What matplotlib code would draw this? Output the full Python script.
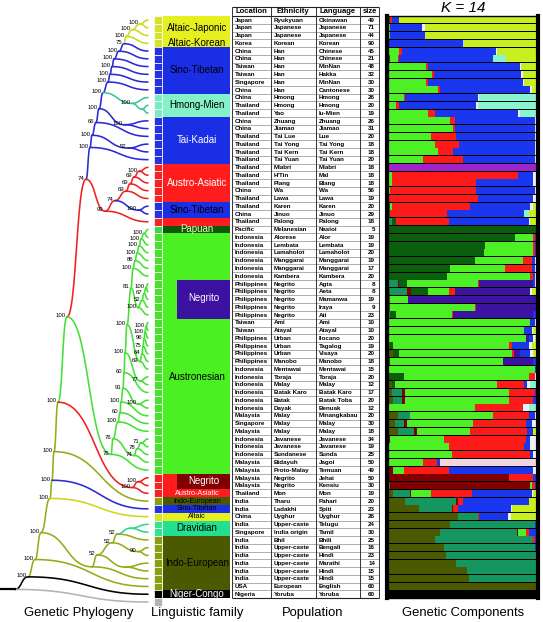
import matplotlib
matplotlib.use('Agg')
import matplotlib.pyplot as plt
import numpy as np

plt.rcParams['font.family'] = ['Liberation Sans', 'DejaVu Sans']

# ---------------- populations (table rows, top to bottom) ----------------
location = ['Japan', 'Japan', 'Japan', 'Korea', 'China', 'China', 'Taiwan', 'Taiwan', 'Singapore', 'China',
            'China', 'Thailand', 'Thailand', 'China', 'China', 'Thailand', 'Thailand', 'Thailand', 'Thailand', 'Thailand',
            'Thailand', 'Thailand', 'China', 'Thailand', 'Thailand', 'China', 'Thailand', 'Pacific', 'Indonesia', 'Indonesia',
            'Indonesia', 'Indonesia', 'Indonesia', 'Indonesia', 'Philippines', 'Philippines', 'Philippines', 'Philippines', 'Philippines', 'Taiwan',
            'Taiwan', 'Philippines', 'Philippines', 'Philippines', 'Philippines', 'Indonesia', 'Indonesia', 'Indonesia', 'Indonesia', 'Indonesia',
            'Indonesia', 'Malaysia', 'Singapore', 'Malaysia', 'Indonesia', 'Indonesia', 'Indonesia', 'Malaysia', 'Malaysia', 'Malaysia',
            'Malaysia', 'Thailand', 'India', 'India', 'China', 'India', 'Singapore', 'India', 'India', 'India',
            'India', 'India', 'India', 'USA', 'Nigeria']
ethnicity = ['Ryukyuan', 'Japanese', 'Japanese', 'Korean', 'Han', 'Han', 'Han', 'Han', 'Han', 'Han',
             'Hmong', 'Hmong', 'Yao', 'Zhuang', 'Jiamao', 'Tai Lue', 'Tai Yong', 'Tai Kern', 'Tai Yuan', 'Mlabri',
             "H'Tin", 'Plang', 'Wa', 'Lawa', 'Karen', 'Jinuo', 'Palong', 'Melanesian', 'Alorese', 'Lembata',
             'Lamaholot', 'Manggarai', 'Manggarai', 'Kambera', 'Negrito', 'Negrito', 'Negrito', 'Negrito', 'Negrito', 'Ami',
             'Atayal', 'Urban', 'Urban', 'Urban', 'Manobo', 'Mentawai', 'Toraja', 'Malay', 'Batak Karo', 'Batak',
             'Dayak', 'Malay', 'Malay', 'Malay', 'Javanese', 'Javanese', 'Sundanese', 'Bidayuh', 'Proto-Malay', 'Negrito',
             'Negrito', 'Mon', 'Tharu', 'Ladakhi', 'Uyghur', 'Upper-caste', 'India origin', 'Bhil', 'Upper-caste', 'Upper-caste',
             'Upper-caste', 'Upper-caste', 'Upper-caste', 'European', 'Yoruba']
language = ['Okinawan', 'Japanese', 'Japanese', 'Korean', 'Chinese', 'Chinese', 'MinNan', 'Hakka', 'MinNan', 'Cantonese',
            'Hmong', 'Hmong', 'Iu-Mien', 'Zhuang', 'Jiamao', 'Lue', 'Tai Yong', 'Tai Kern', 'Tai Yuan', 'Mlabri',
            'Mal', 'Blang', 'Wa', 'Lawa', 'Karen', 'Jinuo', 'Palong', 'Nasioi', 'Alor', 'Lembata',
            'Lamaholot', 'Manggarai', 'Manggarai', 'Kambera', 'Agta', 'Aeta', 'Mamanwa', 'Iraya', 'Ati', 'Ami',
            'Atayal', 'Ilocano', 'Tagalog', 'Visaya', 'Manobo', 'Mentawai', 'Toraja', 'Malay', 'Batak Karo', 'Batak Toba',
            'Benuak', 'Minangkabau', 'Malay', 'Malay', 'Javanese', 'Javanese', 'Sunda', 'Jagoi', 'Temuan', 'Jehai',
            'Kensiu', 'Mon', 'Pahari', 'Spiti', 'Uyghur', 'Telugu', 'Tamil', 'Bhili', 'Bengali', 'Hindi',
            'Marathi', 'Hindi', 'Hindi', 'English', 'Yoruba']
size = [49, 71, 44, 90, 45, 21, 48, 32, 30, 30,
        26, 20, 19, 26, 31, 20, 18, 18, 20, 18,
        18, 18, 56, 19, 20, 29, 18, 5, 19, 19,
        20, 19, 17, 20, 8, 8, 19, 9, 23, 10,
        10, 20, 19, 20, 18, 15, 20, 12, 17, 20,
        12, 20, 30, 18, 34, 19, 25, 50, 49, 50,
        30, 19, 20, 23, 26, 24, 30, 25, 16, 23,
        14, 15, 15, 60, 60]

# linguistic family of each row (+ outgroup leaf 76)
fam = (['ALT'] * 4 + ['ST'] * 6 + ['HM'] * 3 + ['TK'] * 6 + ['AA'] * 5 + ['ST'] * 2 + ['AA'] + ['PAP']
       + ['AN'] * 31 + ['AA'] * 3 + ['IE', 'ST', 'ALT'] + ['DR'] * 2 + ['IE'] * 7 + ['NC', 'OUT'])

# (first row, last row, label, text colour, optional label row)
fam_blocks = [(1, 3, 'Altaic-Japonic', 'black'), (4, 4, 'Altaic-Korean', 'black'),
              (5, 10, 'Sino-Tibetan', 'black'), (11, 13, 'Hmong-Mien', 'black'),
              (14, 19, 'Tai-Kadai', 'white'), (20, 24, 'Austro-Asiatic', 'white'),
              (25, 26, 'Sino-Tibetan', 'black'), (27, 27, '', 'white'),
              (28, 28, 'Papuan', '#f4f4c0'), (29, 59, 'Austronesian', 'black', 47),
              (60, 62, 'Austro-Asiatic', 'white', 62), (63, 63, 'Indo-European', 'black'),
              (64, 64, 'Sino-Tibetan', 'black'), (65, 65, 'Altaic', 'black'),
              (66, 67, 'Dravidian', 'black'), (68, 74, 'Indo-European', 'black'),
              (75, 75, 'Niger-Congo', 'white')]
negrito_boxes = [(35, 39, '#3c10a0'), (60, 61, '#800000')]
tight_rows = [62, 63, 64, 65]   # one-row labels packed together

# ---------------- genetic components, K = 14 (percent per row) ----------------
olive = [0] * 30 + [0, 0, 0, 0, 0, 2, 2, 0, 0, 0,
                    0, 0, 2, 4, 0, 0, 0, 3, 3, 4,
                    0, 7, 5, 7, 0, 0, 0, 0, 1, 0,
                    0, 4, 12, 21, 47, 42, 35, 32, 38, 39,
                    46, 53, 54, 99, 0]
teal = [0] * 20 + [0, 0, 0, 0, 0, 0, 3, 0, 0, 0,
                   0, 0, 0, 0, 7, 11, 0, 0, 2, 0,
                   0, 0, 0, 0, 0, 0, 0, 0, 7, 6,
                   0, 8, 6, 11, 0, 0, 0, 0, 0, 0,
                   2, 11, 34, 22, 13, 56, 51, 65, 60, 60,
                   53, 46, 45, 1, 0]
dkred = [0] * 30 + [1, 1, 0, 0, 1, 3, 0, 0, 0, 0,
                    0, 1, 0, 0, 0, 1, 0, 0, 2, 2,
                    1, 0, 2, 2, 2, 1, 1, 0, 3, 81,
                    93, 1, 1, 1, 0, 0, 1, 0, 0, 0,
                    0, 0, 0, 0, 0]
dkgreen = [2, 0, 0, 0, 1, 2, 0, 0, 0, 0,
           0, 0, 1, 0, 0, 0, 0, 0, 1, 0,
           0, 0, 0, 1, 2, 2, 3, 99, 85, 65,
           63, 57, 42, 40, 5, 11, 0, 2, 4, 0,
           0, 0, 2, 4, 2, 0, 11, 2, 0, 0] + [0] * 25
green = [0, 2, 2, 1, 7, 5, 26, 30, 26, 34,
         11, 6, 26, 42, 44, 29, 32, 33, 23, 0,
         3, 3, 2, 0, 1, 0, 0, 0, 12, 32,
         33, 32, 36, 55, 47, 14, 12, 56, 37, 95,
         91, 91, 77, 75, 75, 97, 83, 68, 69, 69,
         57, 55, 44, 35, 36, 40, 42, 24, 7, 0,
         1, 13, 0, 0, 0, 0, 5, 0, 0, 0,
         0, 0, 0, 0, 0]
red = [1, 0, 0, 0, 2, 1, 1, 1, 1, 1,
       1, 2, 5, 3, 1, 17, 16, 10, 26, 0,
       84, 56, 57, 59, 52, 38, 35, 0, 1, 1,
       1, 6, 18, 2, 1, 4, 0, 1, 1, 0,
       0, 0, 2, 1, 0, 0, 4, 18, 17, 16,
       32, 24, 35, 38, 54, 50, 52, 9, 30, 16,
       2, 27, 3, 3, 1, 0, 2, 1, 0, 0,
       0, 0, 0, 0, 0]
indigo = [0] * 30 + [0, 0, 0, 0, 36, 50, 85, 40, 53, 0,
                     0, 2, 0, 4, 20, 0, 0, 0, 0, 0] + [0] * 25
blue = [5, 21, 23, 49, 62, 62, 61, 58, 63, 60,
        48, 51, 55, 53, 53, 52, 50, 53, 48, 0,
        10, 38, 39, 37, 40, 51, 53, 0, 1, 1,
        1, 2, 2, 1, 1, 0, 0, 0, 2, 3,
        5, 3, 11, 7, 2, 1, 0, 2, 2, 2,
        0, 4, 4, 4, 3, 4, 2, 2, 56, 2,
        2, 40, 44, 35, 19, 1, 5, 1, 1, 0,
        0, 0, 0, 0, 0]
white = [0, 2, 0, 0, 1, 0, 1, 1, 1, 1,
         1, 1, 1, 2, 2, 2, 2, 2, 2, 0,
         2, 2, 2, 2, 2, 0, 1, 1, 1, 1,
         1, 2, 2, 2, 2, 1, 1, 1, 1, 2,
         1, 1, 2, 2, 1, 1, 2, 2, 0, 1,
         4, 2, 4, 0, 4, 4, 3, 0, 3, 1,
         0, 1, 0, 1, 2, 1, 1, 1, 1, 1,
         1, 1, 1, 0, 0]
pink = {58: 64}
aqua = {4: 1, 6: 9, 11: 39, 12: 40, 13: 12, 21: 1, 22: 1, 26: 3, 48: 5, 51: 6, 55: 1, 56: 1, 58: 1}
violet = {20: 100}
ygreen = [92, 75, 75, 49, 27, 21, 11, 10, 9, 4,
          0, 0, 0, 0, 0, 0, 0, 0, 0, 0,
          0, 0, 0, 1, 3, 6, 5, 0, 0, 0,
          0, 0, 0, 0, 0, 4, 0, 0, 0, 0,
          3, 2, 4, 3, 0, 0, 0, 0, 0, 0,
          0, 0, 0, 3, 0, 0, 0, 0, 0, 0,
          0, 3, 6, 17, 18, 0, 0, 0, 0, 0,
          0, 0, 0, 0, 0]
black = {75: 100}

# ---------------- colours ----------------
TREE = {'ALT': '#cdd81c', 'ST': '#2a2ad6', 'HM': '#3cc49c', 'TK': '#2a2ad6', 'AA': '#ee2222',
        'PAP': '#44e034', 'AN': '#44e034', 'IE': '#94ac18', 'DR': '#2ed890', 'NC': '#000000',
        'OUT': '#b0b4b4'}
SQ = {'ALT': '#d4e42a', 'ST': '#2632e0', 'HM': '#78ecc4', 'TK': '#2632e0', 'AA': '#f42222',
      'PAP': '#38d848', 'AN': '#4ae030', 'IE': '#8a9e12', 'DR': '#34e092', 'NC': '#000000',
      'OUT': '#b4b4b4'}
BLK = {'ALT': '#e6f01e', 'ST': '#1a2ee6', 'HM': '#84f2c8', 'TK': '#1a2ee6', 'AA': '#ff1c1c',
       'PAP': '#0b5a0b', 'AN': '#4af022', 'IE': '#4b5a00', 'DR': '#22e090', 'NC': '#000000'}

# ---------------- phylogeny: [node x, bootstrap, colour if mixed, children...] ----------------
altaic = [126, '100', None, [132, '100', None, [140, '100', None, 1, 2], 3], 4]
t = [124, '75', 'ST', altaic, 5]
t = [119, '100', 'ST', t, 6]
t = [114, '100', 'ST', t, 7]
t = [112, '100', 'ST', t, 8]
t = [110, '100', 'ST', t, 9]
t = [108, '100', 'ST', t, 10]
t = [103, '100', 'ST', t, [132, '100', None, 11, [142, '', None, 12, 13]]]
t = [99, '100', 'ST', t, [124, '100', None, 14, 15]]
t = [96, '66', 'ST', t, 16]
t = [92, '100', 'ST', t, [128, '52', None, 17, 18]]
t = [90, '100', 'ST', t, 19]
aac = [126, '69', None, [130, '69', None, [134, '69', None, [139, '100', None, 20, 21], 22], 23], 24]
aa = [105, '93', 'AA', [115, '74', 'AA', aac, [138, '100', None, 25, 26]], 27]
top = [86, '74', 'AA', t, aa]

g = [144, '100', None, 28, 29]
g = [141, '100', None, g, 30]
g = [139, '100', None, g, 31]
g = [137, '100', None, g, 32]
g = [135, '86', None, g, 33]
g = [133, '100', None, g, 34]
neg = [138, '100', None, [142, '52', None, [144, '67', None, [146, '100', None, 35, 36], 37], 38], 39]
g = [131, '81', None, g, neg]
ph = [146, '100', None, 40, 41]
ph = [145, '100', None, ph, 42]
ph = [144, '96', None, ph, 43]
ph = [143, '75', None, ph, 44]
ph = [142, '64', None, ph, 45]
ph = [140, '69', None, ph, 46]
g = [127, '100', None, g, ph]
g = [125, '100', None, g, [140, '77', None, 47, 48]]
g = [124, '60', None, g, 49]
g = [123, '91', None, g, [138, '100', None, 50, 51]]
g = [121, '100', None, g, 52]
g = [120, '60', None, g, 53]
g = [118, '100', None, g, 54]
g = [113, '76', None, g, [134, '74', None, [137, '78', None, [141, '71', None, 55, 56], 57], 58]]
g = [111, '76', None, g, 59]

india = [117, '52', 'IE', [130, '', None, 66, 67], 68]
india = [112, '52', 'IE', india, [138, '90', None, 69, 70]]
india = [97, '52', 'IE', india, [125, '', None, 71, 72]]
india = [92, '', 'IE', india, 73]

s = [67, '100', 'AN', top, g]
s = [58, '100', 'IE', s, [132, '100', None, [138, '100', None, 60, 61], 62]]
s = [54, '100', 'IE', s, 63]
s = [52, '100', 'IE', s, 64]
s = [50, '100', 'IE', s, 65]
s = [41, '100', 'IE', s, india]
s = [35, '100', 'IE', s, 74]
s = [28, '100', 'NC', s, 75]
root = [15, '', 'NC', s, 76]

# ---------------- layout ----------------
W, H = 543, 622
ROW0, RH = 16.1, 7.76
LEAF_X = 148


def row_y(i):
    return ROW0 + (i - 0.5) * RH


fig = plt.figure(figsize=(W / 100, H / 100), dpi=100)
ax = fig.add_axes([0, 0, 1, 1])
ax.set_xlim(0, W)
ax.set_ylim(H, 0)
ax.axis('off')

pos = {}


def layout(n):
    if isinstance(n, int):
        return LEAF_X, row_y(n), TREE[fam[n - 1]]
    kids = [layout(k) for k in n[3:]]
    y = (kids[0][1] + kids[-1][1]) / 2
    cols = {k[2] for k in kids}
    col = cols.pop() if len(cols) == 1 else TREE[n[2]]
    pos[id(n)] = (n[0], y, col)
    return pos[id(n)]


def curve(x0, y0, x1, y1, c):
    t_ = np.linspace(0, 1, 40)[:, None]
    xm = x0 + (x1 - x0) * 0.5
    p = np.array([[x0, y0], [xm, y0], [xm, y1], [x1, y1]])
    b = ((1 - t_) ** 3 * p[0] + 3 * (1 - t_) ** 2 * t_ * p[1]
         + 3 * (1 - t_) * t_ ** 2 * p[2] + t_ ** 3 * p[3])
    ax.plot(b[:, 0], b[:, 1], color=c, lw=1.15, solid_capstyle='round', zorder=2)


def draw(n):
    x, y, _ = pos[id(n)]
    for k in n[3:]:
        cx, cy, cc = layout(k) if isinstance(k, int) else pos[id(k)]
        curve(x, y, cx, cy, cc)
        if not isinstance(k, int):
            draw(k)
    if n[1]:
        ax.text(x - 1.5, y - 1.2, n[1], fontsize=4.3, ha='right', va='center', zorder=3)


layout(root)
draw(root)
rx, ry, _ = pos[id(root)]
ax.plot([0, rx], [ry, ry], color='black', lw=1.6)

# ---------------- linguistic family ----------------
ax.barh([row_y(i) for i in range(1, 77)], 8.2, left=154.2, height=RH,
        color=[SQ[f] for f in fam], edgecolor='white', linewidth=0.5)
for blk in fam_blocks:
    a, b = blk[0], blk[1]
    ax.barh((row_y(a) + row_y(b)) / 2, 67, left=163.3, height=(b - a + 1) * RH,
            color=BLK[fam[a - 1]], linewidth=0)
for a, b, c in negrito_boxes:
    ax.barh((row_y(a) + row_y(b)) / 2, 53, left=177, height=(b - a + 1) * RH,
            color=c, linewidth=0)
    ax.text(203.5, (row_y(a) + row_y(b)) / 2 - 1, 'Negrito', fontsize=7, color='white',
            ha='center', va='center')
for blk in fam_blocks:
    a, b, lab, tc = blk[:4]
    lrow = blk[4] if len(blk) > 4 else None
    yy = row_y(lrow) if lrow else (row_y(a) + row_y(b)) / 2
    fs = 5.2 if (lrow or a) in tight_rows else 7
    ax.text(197, yy, lab, fontsize=fs, color=tc, ha='center', va='center', zorder=4)

# ---------------- population table ----------------
col_x = [232, 270.5, 316, 359.5, 379]
tbl_bot = ROW0 + 75 * RH
ax.hlines([ROW0 + j * RH for j in range(1, 75)], col_x[0], col_x[-1], color='#a0a0a0', lw=0.6)
ax.hlines([6.5, ROW0, tbl_bot], col_x[0], col_x[-1], color='#222222', lw=0.8)
ax.vlines(col_x, 6.5, tbl_bot, color='#333333', lw=0.7)
for hx, ht in zip([251, 293, 338, 369.5], ['Location', 'Ethnicity', 'Language', 'size']):
    ax.text(hx, 11.5, ht, fontsize=5.5, fontweight='bold', ha='center', va='center')
for i in range(75):
    yy = row_y(i + 1) + 0.2
    ax.text(234.5, yy, location[i], fontsize=4.5, fontweight='bold', ha='left', va='center')
    ax.text(274, yy, ethnicity[i], fontsize=4.5, fontweight='bold', ha='left', va='center')
    ax.text(319, yy, language[i], fontsize=4.5, fontweight='bold', ha='left', va='center')
    ax.text(375, yy, str(size[i]), fontsize=4.5, fontweight='bold', ha='right', va='center')


# ---------------- STRUCTURE bars ----------------
def full(d):
    return [d.get(i, 0) for i in range(1, 76)]


components = [(olive, '#4b5a00'), (teal, '#14965e'), (dkred, '#800000'), (dkgreen, '#0b5e0b'),
              (green, '#4cf024'), (red, '#ff1a1a'), (indigo, '#3c12a0'), (blue, '#1a36ee'),
              (white, '#eeeef8'), (full(pink), '#f0d6e0'), (full(aqua), '#86f6d0'),
              (full(violet), '#a024cc'), (ygreen, '#c8f020'), (full(black), '#000000')]
vals = np.array([c[0] for c in components], dtype=float)
vals = vals / vals.sum(axis=0)

axs = fig.add_axes([387 / W, 1 - tbl_bot / H, 151 / W, 75 * RH / H])
axs.set_facecolor('black')
left = np.zeros(75)
for v, (_, col) in zip(vals, components):
    axs.barh(np.arange(1, 76), v, left=left, height=0.9, color=col, linewidth=0)
    left += v
axs.set_xlim(0, 1)
axs.set_ylim(75.5, 0.5)
axs.set_xticks([])
axs.set_yticks([])
for k, sp in axs.spines.items():
    sp.set_color('black')
    sp.set_linewidth(3 if k in ('left', 'right') else 1)

ax.text(463, 8, 'K = 14', fontsize=11, style='italic', ha='center', va='center')

# ---------------- panel captions ----------------
for cx, cap in zip([79, 197, 313, 463],
                   ['Genetic Phylogeny', 'Linguistic family', 'Population', 'Genetic Components']):
    ax.text(cx, 616, cap, fontsize=9.4, ha='center', va='baseline')

fig.savefig('out.png', dpi=100)
